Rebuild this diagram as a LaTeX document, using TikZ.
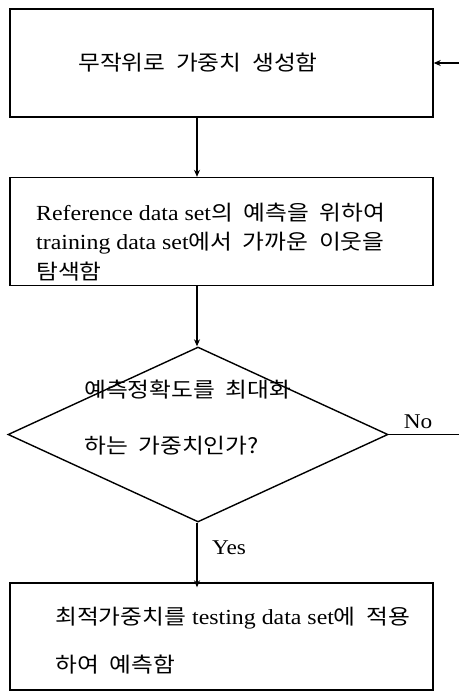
\documentclass[tikz,border=0pt]{standalone}
\usepackage{fontspec}
\setmainfont{Liberation Serif}[FakeStretch=1.11]
\newfontfamily\kr[WordSpace=2,FakeStretch=1.13]{Noto Sans CJK KR}
\usetikzlibrary{shapes.geometric,arrows.meta}
\newcommand{\K}[1]{{\kr\fontsize{21}{29.5}\selectfont #1}}
\begin{document}
\begin{tikzpicture}[x=1pt,y=-1pt,
  stepbox/.style={draw,line width=1.4pt,rectangle,minimum width=423pt,minimum height=108pt,inner sep=0pt},
  decide/.style={draw,line width=1.4pt,diamond,minimum width=380pt,minimum height=175pt,inner sep=0pt},
  txt/.style={anchor=west,inner sep=0pt,font=\fontsize{21.5}{29.5}\selectfont,align=left},
  lbl/.style={inner sep=0pt,font=\fontsize{21}{24}\selectfont},
  flow/.style={line width=1.4pt,-{Stealth[length=7pt,width=6pt]}},
  plain/.style={line width=1.4pt}]
\useasboundingbox (0,0) rectangle (459,691);
\node[stepbox] (b1) at (221.5,63) {};
\node[stepbox] (b2) at (221.5,231.5) {};
\node[decide] (d) at (198,434.5) {};
\node[stepbox,minimum height=107pt] (b3) at (221.5,636.5) {};
\node[txt] (t1) at (78,63) {\K{무작위로 가중치 생성함}};
\node[txt] (t2) at (36,242) {Reference data set\K{의 예측을 위하여}\\training data set\K{에서 가까운 이웃을}\\\K{탐색함}};
\node[txt,font=\fontsize{21.5}{56}\selectfont] (t3) at (84,418) {\K{예측정확도를 최대화}\\\K{하는 가중치인가?}};
\node[txt,font=\fontsize{21.5}{48}\selectfont] (t4) at (55,641) {\K{최적가중치를} testing data set\K{에 적용}\\\K{하여 예측함}};
\node[lbl] (no) at (418,422) {No};
\node[lbl] (yes) at (229,548) {Yes};
\coordinate (nR) at (459,434.5);
\coordinate (fR) at (459,63);
\draw[flow] (b1.south -| 197,0) -- (b2.north -| 197,0);
\draw[flow] (b2.south -| 197,0) -- (d.north -| 197,0);
\draw[flow] (d.south -| 197,0) -- ([yshift=-5pt]b3.north -| 197,0);
\draw[plain] (d.east) -- (nR);
\draw[flow] (fR) -- (b1.east);
\end{tikzpicture}
\end{document}
